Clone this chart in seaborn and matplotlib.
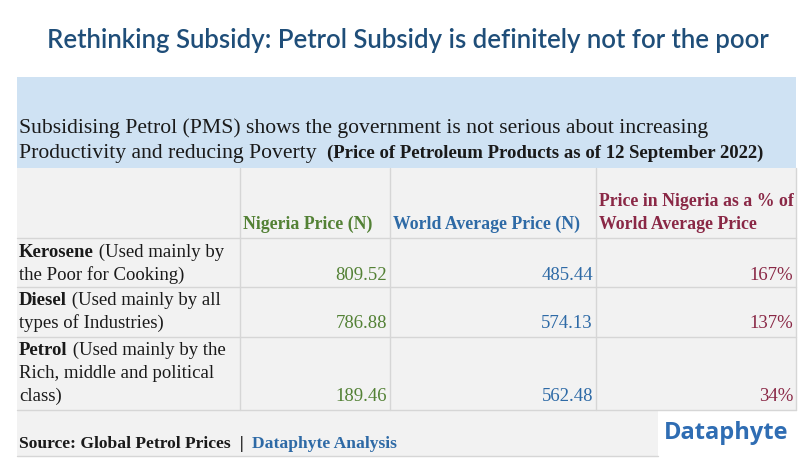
import matplotlib.pyplot as plt
import seaborn as sns
from matplotlib.patches import Rectangle

title = "Rethinking Subsidy: Petrol Subsidy is definitely not for the poor"
subtitle_1 = "Subsidising Petrol (PMS) shows the government is not serious about increasing"
subtitle_2 = "Productivity and reducing Poverty "
subtitle_2b = "(Price of Petroleum Products as of 12 September 2022)"
headers = ["Nigeria Price (N)", "World Average Price (N)",
           "Price in Nigeria as a % of\nWorld Average Price"]
products = ["Kerosene", "Diesel", "Petrol"]
uses = [[" (Used mainly by", "the Poor for Cooking)"],
        [" (Used mainly by all", "types of Industries)"],
        [" (Used mainly by the", "Rich, middle and political", "class)"]]
nigeria_price = [809.52, 786.88, 189.46]
world_price = [485.44, 574.13, 562.48]
pct_of_world = [167, 137, 34]
source = "Source: Global Petrol Prices"
source_2 = "Dataphyte Analysis"
logo = "Dataphyte"

GREEN = "#538135"
BLUE = "#2e6aa6"
MAROON = "#8a2846"
NAVY = "#1f4e79"
GREY = "#f2f2f2"
LINE = "#d6d6d6"
SERIF = ["Liberation Serif", "DejaVu Serif"]

sns.set_theme(style="white")
plt.rcParams["font.family"] = ["DejaVu Sans"]

fig = plt.figure(figsize=(8.12, 4.68), dpi=100)
ax = fig.add_axes([0, 0, 1, 1])
ax.set_xlim(0, 812)
ax.set_ylim(468, 0)
ax.axis("off")
fig.canvas.draw()
renderer = fig.canvas.get_renderer()


def fit(t, width):
    # shrink/grow a text so it spans the given pixel width
    w = t.get_window_extent(renderer).width
    t.set_fontsize(t.get_fontsize() * width / w)


def run(x, y, parts, size):
    # draw consecutive text pieces on one baseline
    for txt, weight, color in parts:
        t = ax.text(x, y, txt, fontsize=size, fontweight=weight, color=color,
                    family=SERIF, va="baseline", ha="left")
        x += t.get_window_extent(renderer).width
    return t


# title
tt = ax.text(408, 48, title, fontsize=19, color=NAVY, ha="center", va="baseline",
             family=["Lato", "DejaVu Sans"], fontweight="semibold")
fit(tt, 722)

# table geometry
cols = [17, 240, 390, 596, 796]
row_edges = [168, 238, 287, 337, 410]

ax.add_patch(Rectangle((17, 77), 779, 91, facecolor="#cfe2f3", edgecolor="none"))
ax.add_patch(Rectangle((17, 168), 779, 242, facecolor=GREY, edgecolor="none"))
ax.add_patch(Rectangle((17, 410), 641, 46, facecolor=GREY, edgecolor="none"))

for y in row_edges[1:]:
    ax.plot([17, 796], [y, y], color=LINE, lw=1)
for x in cols[1:-1]:
    ax.plot([x, x], [168, 410], color=LINE, lw=1)
ax.plot([796, 796], [168, 410], color=LINE, lw=1)
ax.plot([17, 658], [456, 456], color=LINE, lw=1)

body = 13.5
dark = "#1a1a1a"

# subtitle
s1 = run(19, 133, [(subtitle_1, "normal", dark)], 14.5)
fit(s1, 687)
sub_size = s1.get_fontsize()
run(19, 158, [(subtitle_2, "normal", dark)], sub_size)
ax.text(327, 158, subtitle_2b, fontsize=13.5, fontweight="bold", color=dark,
        family=SERIF, va="baseline", ha="left")

# headers
head_colors = [GREEN, BLUE, MAROON]
for i, h in enumerate(headers):
    lines = h.split("\n")
    base = 229 - 23 * (len(lines) - 1)
    for k, ln in enumerate(lines):
        run(cols[i + 1] + 3, base + 23 * k, [(ln, "bold", head_colors[i])], 12.8)

# rows
row_tops = [257, 305, 355]
for r, prod in enumerate(products):
    y0 = row_tops[r]
    run(19, y0, [(prod, "bold", dark), (uses[r][0], "normal", dark)], body)
    for k, ln in enumerate(uses[r][1:]):
        run(19, y0 + 23 * (k + 1), [(ln, "normal", dark)], body)
    yl = y0 + 23 * (len(uses[r]) - 1)
    vals = [f"{nigeria_price[r]:.2f}", f"{world_price[r]:.2f}", f"{pct_of_world[r]}%"]
    for c, v in enumerate(vals):
        ax.text(cols[c + 2] - 3, yl, v, fontsize=body, color=head_colors[c],
                family=SERIF, ha="right", va="baseline")

# source line
run(19, 448, [(source, "bold", dark), ("  |  ", "bold", dark),
              (source_2, "bold", BLUE)], 12.6)

# logo
ax.text(726, 439, logo, fontsize=17, color="#2f6db3", ha="center", va="baseline",
        family=["Open Sans", "DejaVu Sans"], fontweight="bold")

plt.savefig("out.png", dpi=100)
plt.close()
